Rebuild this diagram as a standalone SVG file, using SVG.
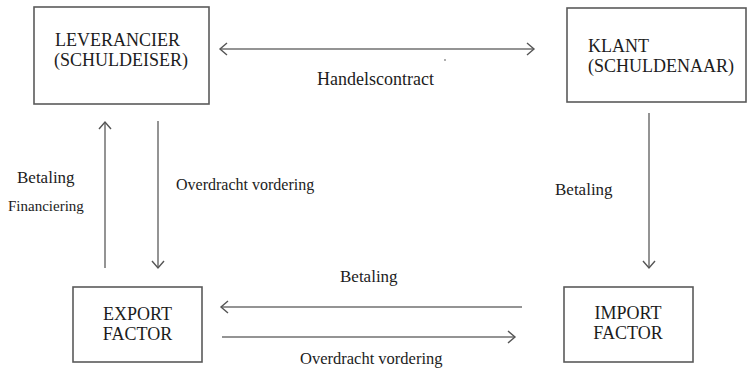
<svg xmlns="http://www.w3.org/2000/svg" width="748" height="371" viewBox="0 0 748 371">
<style>
.box{fill:#fff;stroke:#5a5a5a;stroke-width:1.6}
text{fill:#1c1c1c}
.n{font-size:18px}
.c{text-anchor:middle}
.con line{stroke:#707070;stroke-width:1.5;fill:none}
</style>
<defs>
<marker id="ah" markerUnits="userSpaceOnUse" markerWidth="20" markerHeight="20" refX="10" refY="10" orient="auto-start-reverse">
<path d="M3,4 L10,10 L3,16" fill="none" stroke="#555" stroke-width="1.4"/>
</marker>
</defs>
<rect width="748" height="371" fill="#fff"/>
<g font-family="Liberation Serif, Times New Roman, DejaVu Serif, serif">
<g id="leverancier">
<rect class="box" x="34" y="7" width="175" height="97"/>
<text class="n" x="55" y="46">LEVERANCIER</text>
<text class="n" x="54" y="66">(SCHULDEISER)</text>
</g>
<g id="klant">
<rect class="box" x="567" y="8" width="179" height="94"/>
<text class="n" x="588" y="52">KLANT</text>
<text class="n" x="588" y="72">(SCHULDENAAR)</text>
</g>
<g id="export-factor">
<rect class="box" x="73" y="287" width="129" height="75"/>
<text class="n c" x="137.5" y="320">EXPORT</text>
<text class="n c" x="137.5" y="340">FACTOR</text>
</g>
<g id="import-factor">
<rect class="box" x="564" y="287" width="129" height="75"/>
<text class="n c" x="628" y="319">IMPORT</text>
<text class="n c" x="628" y="339">FACTOR</text>
</g>
<g id="connectors" class="con">
<line x1="220" y1="49" x2="534" y2="49" marker-start="url(#ah)" marker-end="url(#ah)"/>
<line x1="105" y1="268" x2="105" y2="122" marker-end="url(#ah)"/>
<line x1="158" y1="121" x2="158" y2="268" marker-end="url(#ah)"/>
<line x1="649" y1="113" x2="649" y2="268" marker-end="url(#ah)"/>
<line x1="522" y1="307" x2="221" y2="307" marker-end="url(#ah)"/>
<line x1="222" y1="337" x2="515" y2="337" marker-end="url(#ah)"/>
</g>
<g id="labels">
<text x="317" y="85" font-size="18">Handelscontract</text>
<circle cx="445" cy="60" r="0.9" fill="#888"/>
<text x="17" y="183" font-size="17">Betaling</text>
<text x="8" y="211" font-size="15">Financiering</text>
<text x="176" y="190" font-size="16">Overdracht vordering</text>
<text x="555" y="195" font-size="17">Betaling</text>
<text x="340" y="282" font-size="17">Betaling</text>
<text x="300" y="364" font-size="16.5">Overdracht vordering</text>
</g>
</g>
</svg>
